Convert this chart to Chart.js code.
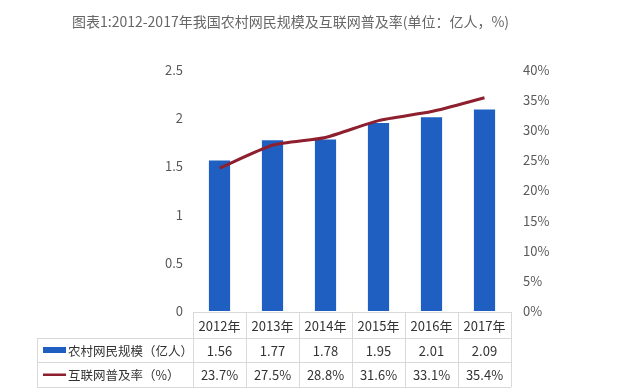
<!DOCTYPE html>
<html>
<head>
<meta charset="utf-8">
<script src="https://cdn.jsdelivr.net/npm/chart.js@4"></script>
<style>
    body { margin: 0; background: #fff; }
    #wrap { position: relative; width: 632px; height: 389px; }
    #title {
        position: absolute; left: 72px; top: 11px;
        font: 14px "Noto Sans CJK SC", sans-serif; color: #666;
        white-space: nowrap;
    }
    canvas { position: absolute; left: 0; top: 0; }
</style>
</head>
<body>
<div id="wrap">
    <canvas id="chart" width="632" height="389"></canvas>
    <div id="title">图表1:2012-2017年我国农村网民规模及互联网普及率(单位：亿人，%)</div>
</div>
<script>
// Data
const years = ['2012年', '2013年', '2014年', '2015年', '2016年', '2017年'];
const netizens = [1.56, 1.77, 1.78, 1.95, 2.01, 2.09];
const penetration = [23.7, 27.5, 28.8, 31.6, 33.1, 35.4];
const seriesNames = ['农村网民规模（亿人）', '互联网普及率（%）'];

const BLUE = '#1f5fc2';
const RED = '#8e1f2f';
const FONT = '"Noto Sans CJK SC", sans-serif';

// Draws the data table under the plot, columns follow the x scale
const dataTable = {
    id: 'dataTable',
    afterDraw(chart) {
        const ctx = chart.ctx;
        const x = chart.scales.x;
        const area = chart.chartArea;
        const colW = x.width / years.length;
        const top = area.bottom + 1;
        const rows = [top, top + 26, top + 50, top + 75];
        const tableLeft = 37;

        ctx.save();
        ctx.strokeStyle = '#d9d9d9';
        ctx.lineWidth = 1;
        ctx.beginPath();
        // horizontal lines
        ctx.moveTo(x.left, rows[0] + 0.5); ctx.lineTo(x.right, rows[0] + 0.5);
        for (let i = 1; i < rows.length; i++) {
            ctx.moveTo(tableLeft, rows[i] + 0.5);
            ctx.lineTo(x.right, rows[i] + 0.5);
        }
        // vertical lines
        ctx.moveTo(tableLeft + 0.5, rows[1]); ctx.lineTo(tableLeft + 0.5, rows[3]);
        for (let i = 0; i <= years.length; i++) {
            const px = Math.round(x.left + i * colW) + 0.5;
            ctx.moveTo(px, rows[0]); ctx.lineTo(px, rows[3]);
        }
        ctx.stroke();

        ctx.fillStyle = '#333';
        ctx.textAlign = 'center';
        ctx.textBaseline = 'middle';
        ctx.font = '13px ' + FONT;
        years.forEach((y, i) => {
            const cx = x.getPixelForValue(i);
            ctx.fillText(y, cx, (rows[0] + rows[1]) / 2 + 1);
            ctx.fillText(netizens[i].toFixed(2), cx, (rows[1] + rows[2]) / 2 + 1);
            ctx.fillText(penetration[i].toFixed(1) + '%', cx, (rows[2] + rows[3]) / 2 + 1);
        });

        // legend keys
        ctx.fillStyle = BLUE;
        ctx.fillRect(43, (rows[1] + rows[2]) / 2 - 3, 23, 6);
        ctx.fillStyle = RED;
        ctx.fillRect(43, (rows[2] + rows[3]) / 2 - 1, 23, 2.5);

        ctx.fillStyle = '#333';
        ctx.textAlign = 'left';
        ctx.font = '12.5px ' + FONT;
        ctx.fillText(seriesNames[0], 68, (rows[1] + rows[2]) / 2 + 1);
        ctx.fillText(seriesNames[1], 68, (rows[2] + rows[3]) / 2 + 1);
        ctx.restore();
    }
};

new Chart(document.getElementById('chart'), {
    data: {
        labels: years,
        datasets: [
            {
                type: 'line',
                label: seriesNames[1],
                data: penetration,
                yAxisID: 'y1',
                borderColor: RED,
                borderWidth: 3,
                pointRadius: 0,
                tension: 0.2,
                order: 0
            },
            {
                type: 'bar',
                label: seriesNames[0],
                data: netizens,
                yAxisID: 'y',
                backgroundColor: BLUE,
                barPercentage: 0.4,
                categoryPercentage: 1,
                order: 1
            }
        ]
    },
    options: {
        responsive: false,
        animation: false,
        layout: { padding: { top: 70, bottom: 78, left: 0, right: 0 } },
        plugins: {
            legend: { display: false },
            tooltip: { enabled: false }
        },
        scales: {
            x: { display: false, offset: true },
            y: {
                position: 'left',
                min: 0, max: 2.5,
                grid: { display: false, drawTicks: false },
                border: { display: false },
                ticks: {
                    stepSize: 0.5, padding: 10, color: '#595959',
                    font: { size: 13, family: FONT },
                    callback: v => String(+v.toFixed(1))
                },
                afterFit(s) { s.width = 193; }
            },
            y1: {
                position: 'right',
                min: 0, max: 40,
                grid: { display: false, drawTicks: false },
                border: { display: false },
                ticks: {
                    stepSize: 5, padding: 12, color: '#595959',
                    font: { size: 13, family: FONT },
                    callback: v => v + '%'
                },
                afterFit(s) { s.width = 121; }
            }
        }
    },
    plugins: [dataTable]
});
</script>
</body>
</html>
